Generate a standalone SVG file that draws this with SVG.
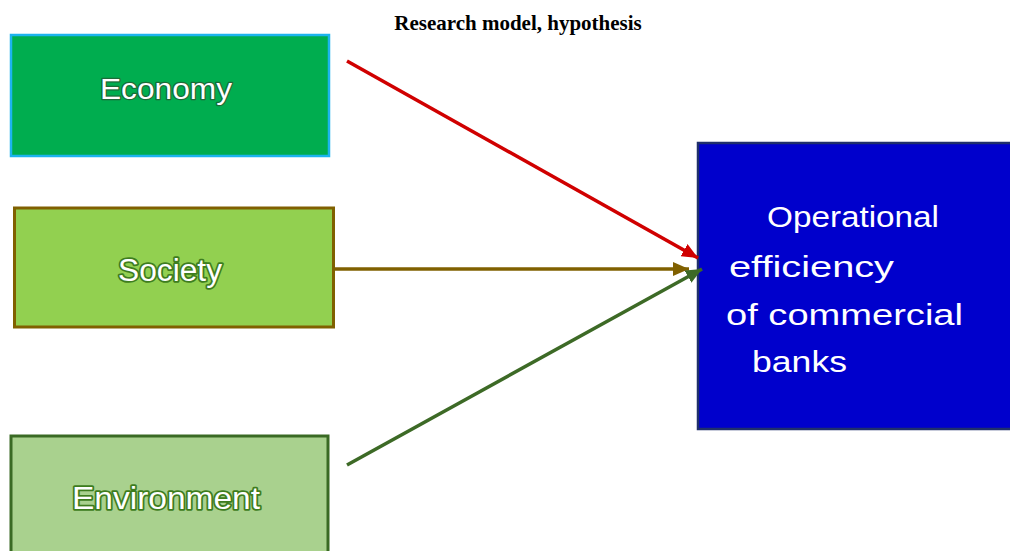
<svg xmlns="http://www.w3.org/2000/svg" width="1010" height="551" viewBox="0 0 1010 551">
<style>
.lbl{font-family:"Liberation Sans",Arial,sans-serif;fill:#fff;paint-order:stroke;stroke-linejoin:round}
.blue{font-family:"Liberation Sans",Arial,sans-serif;fill:#fff;font-size:30px}
.title{font-family:"Liberation Serif","Times New Roman",serif;font-weight:bold;font-size:21px;fill:#000}
.conn{fill:none;stroke-width:3.5}
</style>
<defs>
<marker id="hRed" markerUnits="userSpaceOnUse" markerWidth="18" markerHeight="14" refX="16" refY="7" orient="auto"><path d="M0,0 L16,7 L0,14 Z" fill="#d00000"/></marker>
<marker id="hBrown" markerUnits="userSpaceOnUse" markerWidth="18" markerHeight="14" refX="16" refY="7" orient="auto"><path d="M0,0 L16,7 L0,14 Z" fill="#806000"/></marker>
<marker id="hGreen" markerUnits="userSpaceOnUse" markerWidth="18" markerHeight="14" refX="16" refY="7" orient="auto"><path d="M0,0 L16,7 L0,14 Z" fill="#3d6a26"/></marker>
</defs>
<rect width="1010" height="551" fill="#fff"/>
<text class="title" x="518" y="30" text-anchor="middle">Research model, hypothesis</text>
<g id="economy">
<rect x="11" y="35" width="318" height="121" fill="#00ad4f" stroke="#1cb4ee" stroke-width="2.5"/>
<text class="lbl" x="100" y="99" font-size="30" stroke="#1d6b38" stroke-width="2.5" textLength="132" lengthAdjust="spacingAndGlyphs">Economy</text>
</g>
<g id="society">
<rect x="14.5" y="208" width="319" height="119" fill="#92d050" stroke="#806000" stroke-width="3"/>
<text class="lbl" x="118" y="281" font-size="31" stroke="#3e7d1e" stroke-width="3.5" textLength="104" lengthAdjust="spacingAndGlyphs">Society</text>
</g>
<g id="environment">
<rect x="11" y="436" width="317" height="130" fill="#a9d18e" stroke="#3a6a24" stroke-width="3"/>
<text class="lbl" x="72" y="509" font-size="32" stroke="#3e7d1e" stroke-width="3.5" textLength="188" lengthAdjust="spacingAndGlyphs">Environment</text>
</g>
<g id="bank">
<rect x="698" y="143" width="320" height="286" fill="#0000cc" stroke="#1f2f6b" stroke-width="2.5"/>
<text class="blue" x="767" y="227" textLength="172" lengthAdjust="spacingAndGlyphs">Operational</text>
<text class="blue" x="729" y="277" font-size="33" textLength="165" lengthAdjust="spacingAndGlyphs">efficiency</text>
<text class="blue" x="726" y="325" font-size="33" textLength="237" lengthAdjust="spacingAndGlyphs">of commercial</text>
<text class="blue" x="752" y="372" font-size="33" textLength="95" lengthAdjust="spacingAndGlyphs">banks</text>
</g>
<g id="connectors">
<line class="conn" x1="347" y1="61" x2="698" y2="258" stroke="#d00000" marker-end="url(#hRed)"/>
<line class="conn" x1="335" y1="269" x2="689" y2="269" stroke="#806000" marker-end="url(#hBrown)"/>
<line class="conn" x1="347" y1="465" x2="702" y2="269" stroke="#3d6a26" marker-end="url(#hGreen)"/>
</g>
</svg>
